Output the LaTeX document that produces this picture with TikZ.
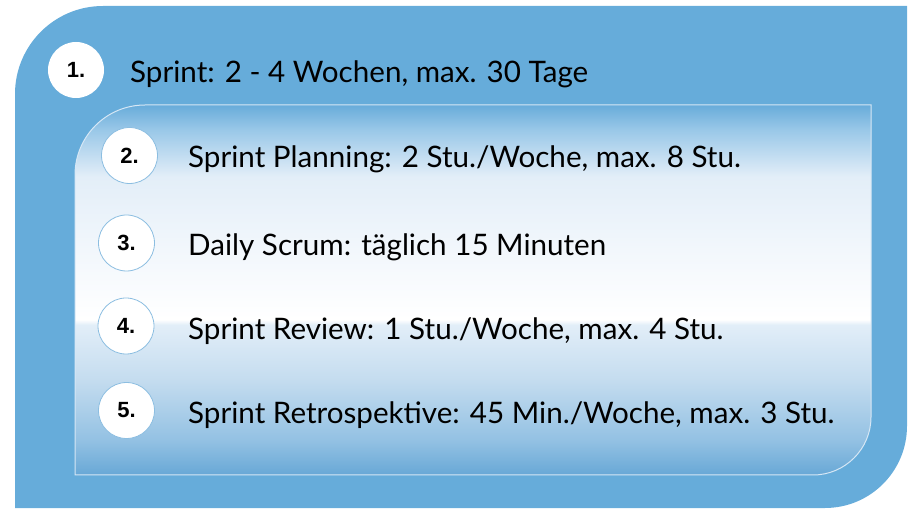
\documentclass[tikz,border=0pt]{standalone}
\usepackage{fontspec}
\setmainfont{Lato}
\newfontfamily\numfont{Liberation Sans}
\definecolor{outerblue}{RGB}{102,172,218}
\definecolor{innerborder}{RGB}{214,231,245}
\definecolor{circborder}{RGB}{140,190,225}
\definecolor{cA}{RGB}{104,168,214}
\definecolor{cB}{RGB}{147,193,227}
\definecolor{cC}{RGB}{196,220,239}
\definecolor{cD}{RGB}{226,238,248}
\definecolor{cE}{RGB}{242,247,252}
\definecolor{cF}{RGB}{227,238,248}
\definecolor{cG}{RGB}{154,200,232}
\definecolor{cH}{RGB}{104,172,218}
\pgfdeclareverticalshading{panel}{100bp}{color(0bp)=(cA); color(25bp)=(cA); color(29.7bp)=(cB); color(37.8bp)=(cC); color(45.3bp)=(cD); color(46.0bp)=(white); color(55.4bp)=(cE); color(65.3bp)=(cF); color(71.6bp)=(cG); color(75bp)=(cH); color(100bp)=(cH)}
\tikzset{
  numcirc/.style={circle, fill=white, minimum size=56pt, inner sep=0pt, font=\numfont\bfseries\fontsize{22}{26}\selectfont},
  itemtext/.style={anchor=base west, inner sep=0pt, font=\fontsize{29.6}{34}\selectfont}
}
\begin{document}
\begin{tikzpicture}[x=1pt,y=1pt]
\useasboundingbox (0,0) rectangle (922,520);
% outer shape
\fill[outerblue] (15,12) -- (15,426) arc[start angle=180,end angle=90,radius=88pt] -- (907,514) -- (907,94) arc[start angle=0,end angle=-90,radius=82pt] -- cycle;
% inner panel
\shadedraw[shading=panel, draw=innerborder, line width=1pt] (75,45) -- (75,345) arc[start angle=180,end angle=90,radius=70pt] -- (871,415) -- (871,103) arc[start angle=0,end angle=-90,radius=58pt] -- cycle;
% circles
\node[numcirc] (n1) at (76,450) {1.};
\node[numcirc, draw=circborder, line width=0.8pt] (n2) at (129.5,364.5) {2.};
\node[numcirc, draw=circborder, line width=0.8pt] (n3) at (126.5,277) {3.};
\node[numcirc, draw=circborder, line width=0.8pt] (n4) at (126,194) {4.};
\node[numcirc, draw=circborder, line width=0.8pt] (n5) at (126.5,109.5) {5.};
% texts
\node[itemtext] (t1) at (130,437) {Sprint: 2 - 4 Wochen, max. 30 Tage};
\node[itemtext] (t2) at (188,352) {Sprint Planning: 2 Stu./Woche, max. 8 Stu.};
\node[itemtext] (t3) at (188,264) {Daily Scrum: täglich 15 Minuten};
\node[itemtext] (t4) at (188,180) {Sprint Review: 1 Stu./Woche, max. 4 Stu.};
\node[itemtext] (t5) at (188,96) {Sprint Retrospektive: 45 Min./Woche, max. 3 Stu.};
\end{tikzpicture}
\end{document}
